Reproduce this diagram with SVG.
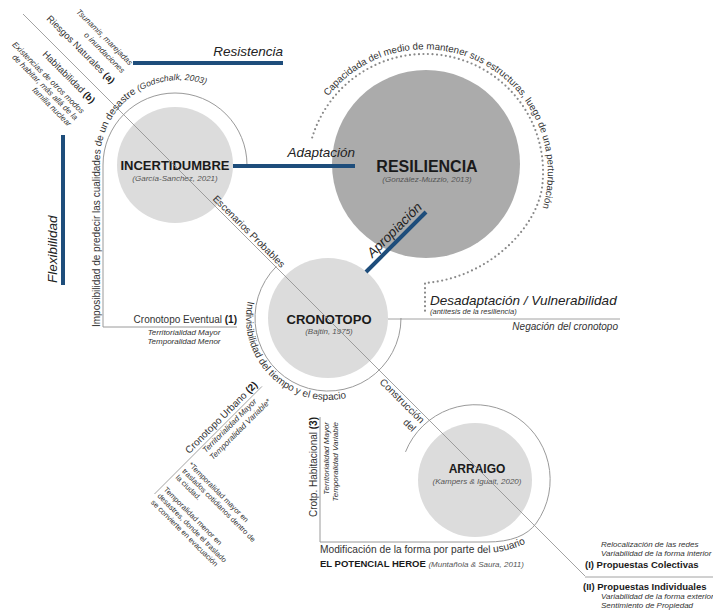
<svg xmlns="http://www.w3.org/2000/svg" width="713" height="615" viewBox="0 0 713 615">
<defs>
<style>
text{font-family:"Liberation Sans",Arial,sans-serif;fill:#333}
.t{font-weight:bold;fill:#1a1a1a;text-anchor:middle}
.c{font-style:italic;font-size:8px;fill:#555;text-anchor:middle}
.i{font-style:italic}
.b{font-weight:bold;fill:#1a1a1a}
.bl{stroke:#1e4d7b;stroke-width:4;fill:none}
.gl{stroke:#8c8c8c;stroke-width:0.8;fill:none}
.ol{stroke:#9a9a9a;stroke-width:1;fill:none}
.node{fill:#dcdcdc}
.big{font-style:italic;font-size:13.5px;fill:#222}
.s8{font-size:8px}
.e{text-anchor:end}
</style>
<path id="pInc" d="M100,327 L100,160 A80,80 0 0 1 180,80 A80,80 0 0 1 260,160"/>
<path id="pCro" d="M247.8,301 A82,82 0 0 0 390.8,370.7"/>
<path id="pRes" d="M328.1,96.3 A123,123 0 0 1 531.5,233.5"/>
<path id="pMod" d="M320,553 L482,553 Q512,553 537,537"/>
</defs>

<g id="resiliencia">
<circle cx="426" cy="164" r="94" fill="#ababab"/>
<text class="t" x="427" y="171.5" font-size="16">RESILIENCIA</text>
<text class="c" x="427" y="182">(González-Muzzio, 2013)</text>
</g>
<g id="incertidumbre">
<circle class="node" cx="175" cy="165" r="58"/>
<text class="t" x="175" y="170" font-size="13">INCERTIDUMBRE</text>
<text class="c" x="175" y="181">(García-Sanchez, 2021)</text>
</g>
<g id="cronotopo">
<circle class="node" cx="328" cy="318" r="60"/>
<text class="t" x="329" y="324" font-size="13">CRONOTOPO</text>
<text class="c" x="329" y="334">(Bajtin, 1975)</text>
</g>
<g id="arraigo">
<circle class="node" cx="475" cy="480" r="57"/>
<text class="t" x="477" y="473" font-size="12">ARRAIGO</text>
<text class="c" x="477" y="484">(Kampers &amp; Iguait, 2020)</text>
</g>

<g id="connectors">
<line class="gl" x1="23" y1="14" x2="585" y2="576"/>
<line class="gl" x1="585" y1="577" x2="713" y2="577" stroke="#bbb"/>
<path class="ol" d="M237,327 L103,327 L103,165 A72,72 0 0 1 247,165"/>
<path class="ol" d="M276.4,266.4 A73,73 0 1 0 401,318"/>
<line class="gl" x1="388" y1="319" x2="620" y2="319"/>
<path class="ol" d="M405.5,451.9 A75,75 0 1 1 536.4,523 Q522.7,542 487,542 L320,542 L320,417"/>
<line class="gl" x1="262" y1="386.4" x2="154.5" y2="494"/>
<path d="M312.2,137.5 A118,118 0 0 1 542.6,182.3 C540,225 490,278 425,283 L425,313" fill="none" stroke="#8a8a8a" stroke-width="2.2" stroke-dasharray="0 4.5" stroke-linecap="round"/>
<line class="bl" x1="133" y1="63" x2="283" y2="63"/>
<line class="bl" x1="233" y1="166" x2="355" y2="166"/>
<line class="bl" x1="366" y1="272" x2="426" y2="212"/>
<line class="bl" x1="63" y1="135" x2="63" y2="285"/>
</g>

<g id="labels">
<text class="big e" x="283" y="56">Resistencia</text>
<text class="big e" x="355" y="157">Adaptación</text>
<text class="big" transform="rotate(-45)" x="152" y="446" text-anchor="end">Apropiación</text>
<text class="big" transform="rotate(-90)" x="-283" y="57">Flexibilidad</text>
<text class="big" x="430" y="305">Desadaptación / Vulnerabilidad</text>
<text class="i" x="430" y="313.5" font-size="7.5" fill="#555">(antítesis de la resiliencia)</text>
<text class="i e" x="618" y="330" font-size="10">Negación del cronotopo</text>

<text font-size="10"><textPath href="#pInc">Imposibilidad de predecir las cualidades de un desastre <tspan class="i" font-size="8.5">(Godschalk, 2003)</tspan></textPath></text>
<text font-size="10"><textPath href="#pCro">Indivisibilidad del tiempo y el espacio</textPath></text>
<text font-size="9.7"><textPath href="#pRes">Capacidada del medio de mantener sus estructuras, luego de una perturbación</textPath></text>
<text font-size="10.2"><textPath href="#pMod">Modificación de la forma por parte del usuario</textPath></text>
<text x="320" y="567" font-size="9.5"><tspan class="b">EL POTENCIAL HEROE</tspan> <tspan class="i" font-size="8" fill="#555">(Muntañola &amp; Saura, 2011)</tspan></text>

<g transform="rotate(45)">
<text class="i e s8" x="138" y="-45">Tsunamis, marejadas</text>
<text class="i e s8" x="138" y="-34">o inundaciones</text>
<text class="e" x="138" y="-19" font-size="9.5">Riesgos Naturales <tspan class="b">(a)</tspan></text>
<text class="e" x="138" y="9" font-size="9.5">Habitabilidad <tspan class="b">(b)</tspan></text>
<text class="i e s8" x="138" y="23.5">Existencias de otros modos</text>
<text class="i e s8" x="138" y="32.5">de habitar, más allá de la</text>
<text class="i e s8" x="138" y="41.5">familia nuclear</text>
<text x="291" y="-9" font-size="10">Escenarios Probables</text>
<text class="e" x="597" y="2.5" font-size="10">Construcción</text>
<text class="e" x="597" y="14.5" font-size="10">del</text>
<text x="462" y="196" font-size="7.5">*Temporalidad mayor en</text>
<text x="462" y="205" font-size="7.5">traslados cotidianos dentro de</text>
<text x="462" y="214" font-size="7.5">la ciudad.</text>
<text x="462" y="231" font-size="7.5">Temporalidad menor en</text>
<text x="462" y="240" font-size="7.5">desastres, donde el traslado</text>
<text x="462" y="249" font-size="7.5">se convierte en evacuación</text>
</g>

<g transform="rotate(-45)">
<text class="e" x="-90" y="455" font-size="10">Cronotopo Urbano <tspan class="b">(2)</tspan></text>
<text class="i s8" x="-175" y="466">Territorialidad Mayor</text>
<text class="i s8" x="-175" y="476">Temporalidad Variable*</text>
</g>

<text class="e" x="237" y="323" font-size="10">Cronotopo Eventual <tspan class="b">(1)</tspan></text>
<text class="i s8" x="184" y="335" text-anchor="middle">Territorialidad Mayor</text>
<text class="i s8" x="184" y="344" text-anchor="middle">Temporalidad Menor</text>

<g transform="rotate(-90)">
<text class="e" x="-417" y="317" font-size="10">Crotp. Habitacional <tspan class="b">(3)</tspan></text>
<text class="i e s8" x="-422" y="329">Territorialidad Mayor</text>
<text class="i e s8" x="-422" y="338">Temporalidad Variable</text>
</g>

<text class="i s8" x="601" y="547">Relocalización de las redes</text>
<text class="i s8" x="601" y="556">Variabilidad de la forma interior</text>
<text class="b" x="585" y="568" font-size="9.5">(I) Propuestas Colectivas</text>
<text class="b" x="583" y="590" font-size="9.5">(II) Propuestas Individuales</text>
<text class="i s8" x="601" y="599">Variabilidad de la forma exterior</text>
<text class="i s8" x="601" y="608">Sentimiento de Propiedad</text>
</g>
</svg>
